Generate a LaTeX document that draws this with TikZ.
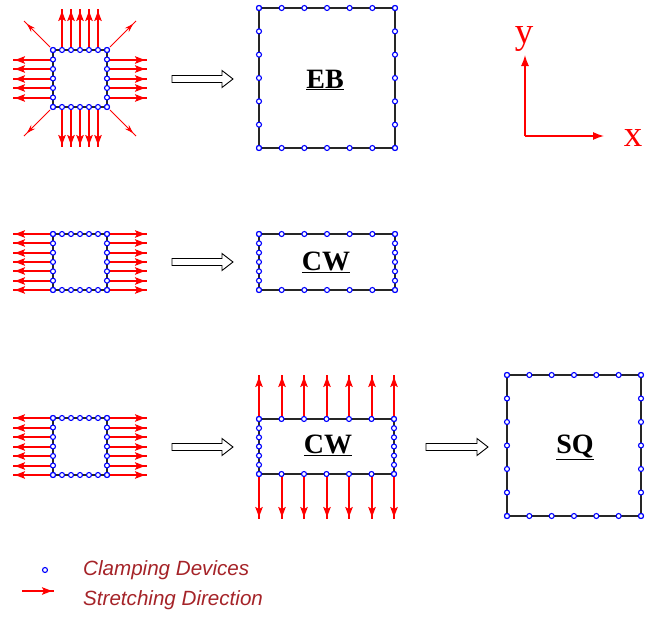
\documentclass[tikz,border=0pt]{standalone}
\usepackage{fontspec}
\setmainfont{Liberation Serif}
\newfontfamily\legendfont{Liberation Sans}
\usetikzlibrary{arrows.meta,calc,decorations.markings}
\definecolor{legendred}{RGB}{165,35,40}
\tikzset{
  clamp/.style={circle,draw=blue,fill=white,inner sep=0pt,minimum size=5pt,line width=1.1pt},
  frame/.style={draw=black!85,line width=1.4pt},
  stretch/.style={draw=red,line width=1.6pt,
    postaction={decorate,decoration={markings,
      mark=at position -2pt with {\arrow[red]{Stealth[length=10pt,width=7.5pt,inset=2pt]}}}}},
  diag/.style={draw=red,line width=0.9pt,
    postaction={decorate,decoration={markings,
      mark=at position -4pt with {\arrow[red]{Stealth[length=9pt,width=5.5pt]}}}}},
  hollow/.style={draw=black,line width=0.9pt,fill=white},
  axis/.style={draw=red,line width=1.3pt,-{Latex[length=11pt,width=8pt]},red},
  boxlabel/.style={font=\fontsize{28}{30}\selectfont\bfseries,inner sep=0pt},
  axislabel/.style={text=red,font=\fontsize{37}{39}\selectfont,inner sep=0pt},
  legendtext/.style={font=\legendfont\itshape\fontsize{20.6}{22}\selectfont,text=legendred,anchor=west,inner sep=0pt}
}
% clamped box: #1 name, (#2,#3) top-left, (#4,#5) bottom-right
\newcommand\clampbox[5]{%
  \draw[frame] (#2,#3) rectangle (#4,#5);
  \coordinate (#1-nw) at (#2,#3);
  \coordinate (#1-se) at (#4,#5);
  \foreach \i in {0,...,6}{%
    \node[clamp] at ($(#2,#3)!\i/6!(#4,#3)$) {};
    \node[clamp] at ($(#2,#5)!\i/6!(#4,#5)$) {};
    \node[clamp] at ($(#2,#3)!\i/6!(#2,#5)$) {};
    \node[clamp] at ($(#4,#3)!\i/6!(#4,#5)$) {};
  }%
}
\newcommand\hollowarrow[3]{% x1 x2 y
  \draw[hollow] (#1,#3-3.5) -- (#2-11,#3-3.5) -- (#2-11,#3-8.5) -- (#2,#3) -- (#2-11,#3+8.5) -- (#2-11,#3+3.5) -- (#1,#3+3.5) -- cycle;
}
\begin{document}
\begin{tikzpicture}[x=1pt,y=-1pt]
\useasboundingbox (0,0) rectangle (646,621);

% ---------- Row 1 ----------
\foreach \i in {1,...,5}{
  \pgfmathsetmacro\xx{round(53+\i*9)}
  \pgfmathsetmacro\yy{round(50+\i*9.5)}
  \draw[stretch] (\xx,50) -- (\xx,9);
  \draw[stretch] (\xx,107) -- (\xx,147);
  \draw[stretch] (53,\yy) -- (13,\yy);
  \draw[stretch] (107,\yy) -- (147,\yy);
}
\draw[diag] (50,47) -- (24,21);
\draw[diag] (110,47) -- (136,21);
\draw[diag] (50,110) -- (24,136);
\draw[diag] (110,110) -- (136,136);
\clampbox{s1}{53}{50}{107}{107}
\hollowarrow{172}{233}{79}
\clampbox{eb}{259}{8}{395}{148}
\node[boxlabel] (ebl) at (325,80) {\underline{EB}};

% axes
\coordinate (o) at (525,136);
\coordinate (ytip) at (525,55);
\coordinate (xtip) at (604,136);
\draw[axis] (o) -- (ytip);
\draw[axis] (o) -- (xtip);
\node[axislabel] (ylab) at (524,39) {y};
\node[axislabel] (xlab) at (633,138) {x};

% ---------- Row 2 ----------
\foreach \i in {0,...,6}{
  \pgfmathsetmacro\yy{round(234+\i*56/6)}
  \draw[stretch] (53,\yy) -- (13,\yy);
  \draw[stretch] (107,\yy) -- (147,\yy);
}
\clampbox{s2}{53}{234}{107}{290}
\hollowarrow{172}{233}{262}
\clampbox{cw1}{259}{234}{395}{290}
\node[boxlabel] (cw1l) at (326,262) {\underline{CW}};

% ---------- Row 3 ----------
\foreach \i in {0,...,6}{
  \pgfmathsetmacro\yy{round(418+\i*57/6)}
  \draw[stretch] (53,\yy) -- (13,\yy);
  \draw[stretch] (107,\yy) -- (147,\yy);
  \pgfmathsetmacro\xx{round(259+\i*135/6)}
  \draw[stretch] (\xx,419) -- (\xx,375);
  \draw[stretch] (\xx,474) -- (\xx,519);
}
\clampbox{s3}{53}{418}{107}{475}
\hollowarrow{172}{233}{447}
\clampbox{cw2}{259}{419}{394}{474}
\node[boxlabel] (cw2l) at (328,445) {\underline{CW}};
\hollowarrow{426}{488}{447}
\clampbox{sq}{507}{375}{641}{516}
\node[boxlabel] (sql) at (575,447) {\underline{SQ}};

% ---------- Legend ----------
\node[clamp] (lc) at (45,570) {};
\coordinate (la1) at (22,591);
\coordinate (la2) at (54,591);
\draw[stretch] (la1) -- (la2);
\node[legendtext] (lt1) at (83,570) {Clamping Devices};
\node[legendtext] (lt2) at (83,600) {Stretching Direction};
\end{tikzpicture}
\end{document}
